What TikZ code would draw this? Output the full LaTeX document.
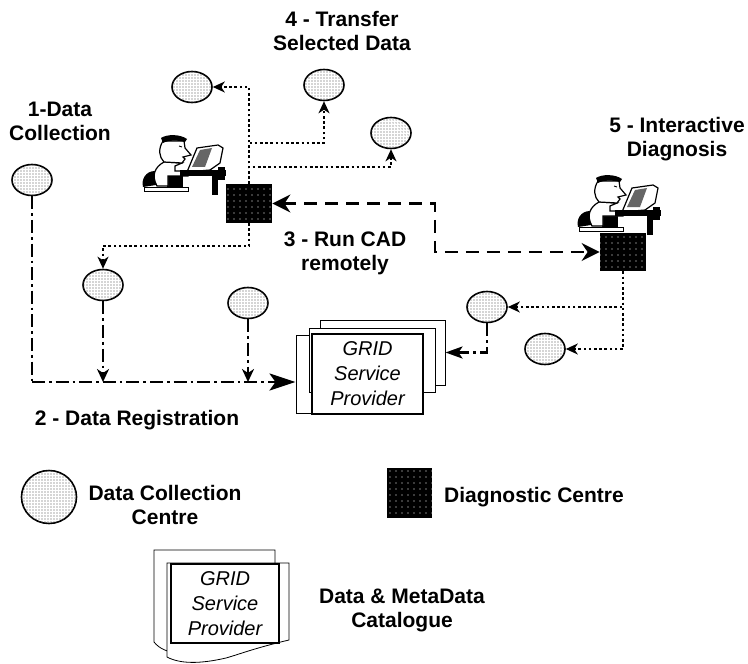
\documentclass[tikz,border=0pt]{standalone}
\usepackage{fontspec}
\setmainfont{Liberation Sans}
\usetikzlibrary{arrows.meta,shapes.geometric,patterns.meta}

\tikzset{
  dcc/.style={ellipse, draw, line width=.8pt, inner sep=0pt,
    minimum width=20pt, minimum height=15.5pt, fill=white,
    postaction={pattern={Dots[distance=1.5pt,radius=.26pt]}, pattern color=black!70}},
  diag/.style={rectangle, inner sep=0pt, minimum width=23pt, minimum height=19pt,
    fill=black, postaction={pattern={Dots[distance=3pt,radius=.35pt]}, pattern color=white}},
  sheet/.style={rectangle, draw, line width=.5pt, fill=white, inner sep=0pt},
  gsp/.style={sheet, line width=.8pt, align=center,
    font=\fontsize{10}{12.5}\selectfont\itshape},
  lbl/.style={align=center, font=\fontsize{10.5}{12}\selectfont\bfseries},
  xfer/.style={line width=.75pt, dash pattern=on 1.3pt off 1.3pt,
    -{Stealth[length=6pt,width=5.5pt,inset=1.8pt]}},
  remote/.style={line width=1.3pt, dash pattern=on 6.5pt off 4pt,
    {Stealth[length=9pt,width=9pt,inset=3pt]}-{Stealth[length=9pt,width=9pt,inset=3pt]}},
  reg/.style={line width=1.3pt, dash pattern=on 6.5pt off 2pt on 1.3pt off 2pt},
}

% man at a workstation
\tikzset{operator/.pic={
  \fill (1,52) .. controls (-1,44) and (4,36) .. (13,36) -- (14,50) -- cycle;
  \draw[fill=white] (2,52) rectangle (46,56);
  \fill (25,41) rectangle (41,53);
  \draw[fill=white,line width=.6pt] (22,27) .. controls (13,32) and (9,40) .. (15,51)
     -- (26,51) -- (26,41) -- (46,41) -- (46,36) -- (33,36) -- (33,31) -- (40,28) -- cycle;
  \draw[fill=white,line width=.6pt] (21,6) .. controls (16,14) and (17,22) .. (22,27)
     -- (40,28) -- (43,24) -- (41,22) -- (49,20) -- (43,13) -- (42,6) -- cycle;
  \fill (19,3) .. controls (25,-1) and (38,-1) .. (45,4) -- (43,7)
     .. controls (36,5) and (26,5) .. (21,8) -- cycle;
  \draw (37,11) -- (40,12);
  \draw[fill=white,line width=.6pt] (45,37) -- (55,13) -- (76,10) -- (81,13) -- (78,28) -- (68,35) -- cycle;
  \fill[black!60] (50,32) -- (58,15) -- (70,13) -- (63,32) -- cycle;
  \fill (38,35) rectangle (84,41);
  \fill (70,38) rectangle (76,60);
  \fill (76,32) rectangle (83,45);
}}

\begin{document}
\begin{tikzpicture}[x=.5pt,y=-.5pt]
  \useasboundingbox (0,0) rectangle (748,663);

  % data collection centres
  \node (e1) at (192,87) [dcc] {};
  \node (e2) at (324,85) [dcc] {};
  \node (e3) at (391,133) [dcc] {};
  \node (e4) at (32,180) [dcc] {};
  \node (e5) at (103,285) [dcc] {};
  \node (e6) at (248,303) [dcc] {};
  \node (e7) at (487,307) [dcc] {};
  \node (e8) at (545,349) [dcc] {};

  % diagnostic centres
  \pic at (142,135) {operator};
  \pic at (577,175) {operator};
  \node (d1) at (249,203.5) [diag] {};
  \node (d2) at (623,252) [diag] {};

  % grid service provider stack
  \node (gleft) at (348,374) [sheet, minimum width=52pt, minimum height=39pt] {};
  \node (gback) at (382.5,352.5) [sheet, minimum width=62.5pt, minimum height=32.5pt] {};
  \node (gmid) at (372,360) [sheet, minimum width=63pt, minimum height=32pt] {};
  \node (grid) at (367.5,374) [gsp, minimum width=55.5pt, minimum height=40pt] {GRID\\Service\\Provider};

  % 1/2 - registration
  \coordinate (bus) at (32,382);
  \draw[reg] (e4.south) -- (bus);
  \draw[reg,-{Stealth[length=13pt,width=8.5pt,inset=3pt]}] (bus) -- (bus -| gleft.west);
  \draw[reg,-{Stealth[length=6.5pt,width=6pt,inset=2pt]}] (e5.south) -- (e5.south |- bus);
  \draw[reg,-{Stealth[length=6.5pt,width=6pt,inset=2pt]}] (e6.south) -- (e6.south |- bus);
  \draw[reg,-{Stealth[length=8.5pt,width=6pt,inset=2pt]}] (e7.south) |- (gback.east);

  % 4 - transfer
  \coordinate (t1) at (249,143);
  \coordinate (t2) at (249,167);
  \coordinate (t3) at (249,246);
  \draw[xfer] (d1.north) |- (e1.east);
  \draw[xfer] (d1.north) -- (t1) -| (e2.south);
  \draw[xfer] (d1.north) -- (t2) -| (e3.south);
  \draw[xfer] (d1.south) -- (t3) -| (e5.north);
  \draw[xfer] (d2.south) |- (e7.east);
  \draw[xfer] (d2.south) |- (e8.east);

  % 3 - remote CAD
  \coordinate (t4) at (435,228);
  \draw[remote] (d1.east) -| (t4) |- (d2.west);

  \node at (342,31) [lbl] {4 - Transfer\\Selected Data};
  \node at (60,121) [lbl] {1-Data\\Collection};
  \node at (677,139) [lbl] {5 - Interactive\\Diagnosis};
  \node at (345,253) [lbl] {3 - Run CAD\\remotely};
  \node at (137,420) [lbl] {2 - Data Registration};

  % legend
  \node (ldcc) at (49,497) [dcc, minimum width=27.5pt, minimum height=26.5pt] {};
  \node at (165,505) [lbl] {Data Collection\\Centre};
  \node (ldiag) at (409.5,493) [diag, minimum width=22.5pt, minimum height=25pt] {};
  \node at (534,497) [lbl] {Diagnostic Centre};

  \draw[fill=white] (154,550) -- (275,550) -- (275,630) .. controls (240,639) and (232,642) .. (214,648)
     .. controls (190,656) and (165,656) .. (154,642) -- cycle;
  \draw[fill=white] (167,563) -- (289,563) -- (289,640) .. controls (255,648) and (240,654) .. (226,658)
     .. controls (200,664) and (180,664) .. (167,657) -- cycle;
  \node (lgsp) at (225,603.5) [gsp, minimum width=54pt, minimum height=39.5pt] {GRID\\Service\\Provider};
  \node at (402,610) [lbl] {Data \& MetaData\\Catalogue};
\end{tikzpicture}
\end{document}
